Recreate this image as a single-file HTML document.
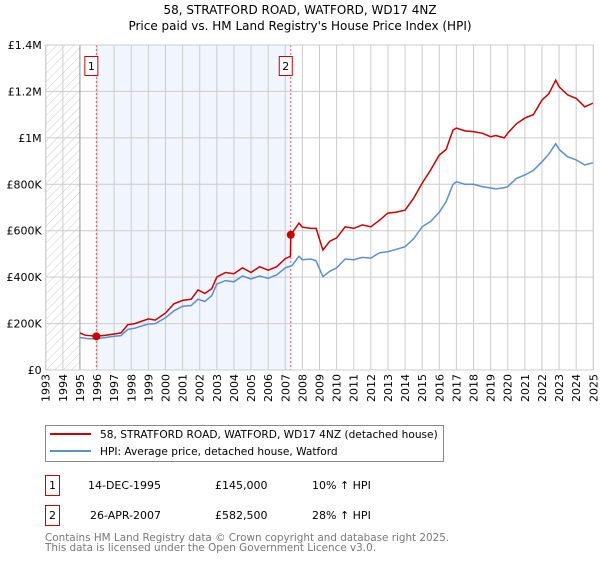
<!DOCTYPE html>
<html><head><meta charset="utf-8"><style>
body{margin:0;background:#fff;font-family:"DejaVu Sans","Liberation Sans",sans-serif;}
svg text{font-family:"DejaVu Sans","Liberation Sans",sans-serif;}
</style></head><body>
<svg id="c" width="600" height="560" viewBox="0 0 600 560">
<defs><pattern id="hatch" width="6" height="6" patternUnits="userSpaceOnUse" patternTransform="rotate(45)"><line x1="0" y1="0" x2="0" y2="6" stroke="#ccc" stroke-width="1"/></pattern></defs>
<text x="300" y="14" text-anchor="middle" font-size="12">58, STRATFORD ROAD, WATFORD, WD17 4NZ</text>
<text x="300" y="30" text-anchor="middle" font-size="12">Price paid vs. HM Land Registry's House Price Index (HPI)</text>
<g id="plot"></g>
<g>
<rect x="45.5" y="425.5" width="398" height="36" fill="#fff" stroke="#888"/>
<line x1="50" y1="434" x2="91" y2="434" stroke="#cc0000" stroke-width="2"/>
<text x="100" y="438" font-size="10.6">58, STRATFORD ROAD, WATFORD, WD17 4NZ (detached house)</text>
<line x1="50" y1="451" x2="91" y2="451" stroke="#5b8fd0" stroke-width="2"/>
<text x="100" y="455" font-size="10.6">HPI: Average price, detached house, Watford</text>
</g>
<g font-size="11">
<rect x="45.5" y="475.5" width="14" height="20" fill="#fff" stroke="#cc0000"/>
<text x="52.5" y="489" text-anchor="middle">1</text>
<text x="88" y="489">14-DEC-1995</text><text x="215" y="489">£145,000</text><text x="312" y="489">10% ↑ HPI</text>
<rect x="45.5" y="505.5" width="14" height="20" fill="#fff" stroke="#cc0000"/>
<text x="52.5" y="519" text-anchor="middle">2</text>
<text x="90" y="519">26-APR-2007</text><text x="215" y="519">£582,500</text><text x="312" y="519">28% ↑ HPI</text>
</g>
<text x="45" y="541" font-size="10.4" fill="#777">Contains HM Land Registry data © Crown copyright and database right 2025.</text>
<text x="45" y="551" font-size="10.4" fill="#777">This data is licensed under the Open Government Licence v3.0.</text>
</svg>
<script>
const yTicks=[0,200000,400000,600000,800000,1000000,1200000,1400000];
const yTickLabels=["£0","£200K","£400K","£600K","£800K","£1M","£1.2M","£1.4M"];
const years=[1993,1994,1995,1996,1997,1998,1999,2000,2001,2002,2003,2004,2005,2006,2007,2008,2009,2010,2011,2012,2013,2014,2015,2016,2017,2018,2019,2020,2021,2022,2023,2024,2025];
const hpiT=[1995.0,1995.5,1996.0,1996.5,1997.0,1997.4,1997.8,1998.2,1999.0,1999.4,2000.0,2000.5,2001.0,2001.5,2001.9,2002.3,2002.7,2003.0,2003.5,2004.0,2004.5,2005.0,2005.5,2006.0,2006.5,2007.0,2007.4,2007.8,2008.0,2008.5,2008.8,2009.2,2009.6,2010.0,2010.5,2011.0,2011.5,2012.0,2012.5,2013.0,2013.5,2014.0,2014.5,2015.0,2015.5,2016.0,2016.4,2016.8,2017.0,2017.5,2018.0,2018.5,2019.0,2019.3,2019.8,2020.0,2020.5,2021.0,2021.5,2022.0,2022.4,2022.8,2023.0,2023.5,2024.0,2024.5,2025.0];
const hpiV=[140,135,135,140,145,148,175,180,198,200,225,255,275,278,305,295,320,370,385,380,405,392,405,395,410,440,450,490,475,478,470,402,425,440,478,475,485,482,505,510,520,531,565,617,640,680,725,800,811,800,800,790,784,780,785,790,825,840,860,897,930,975,950,919,905,883,893];
const ppT=[1995.0,1995.3,1995.96,1996.5,1997.0,1997.4,1997.8,1998.2,1999.0,1999.4,2000.0,2000.5,2001.0,2001.5,2001.9,2002.3,2002.7,2003.0,2003.5,2004.0,2004.5,2005.0,2005.5,2006.0,2006.5,2007.0,2007.3,2007.32,2007.8,2008.0,2008.5,2008.8,2009.2,2009.6,2010.0,2010.5,2011.0,2011.5,2012.0,2012.5,2013.0,2013.5,2014.0,2014.5,2015.0,2015.5,2016.0,2016.4,2016.8,2017.0,2017.5,2018.0,2018.5,2019.0,2019.3,2019.8,2020.0,2020.5,2021.0,2021.5,2022.0,2022.4,2022.8,2023.0,2023.5,2024.0,2024.5,2025.0];
const ppV=[160,150,145,150,155,160,195,200,220,215,245,285,300,305,345,330,350,400,420,415,440,420,445,430,445,480,490,582.5,633,615,610,610,517,555,569,617,610,625,617,645,676,680,689,740,805,862,926,950,1034,1042,1030,1027,1020,1005,1010,1000,1020,1060,1085,1100,1163,1190,1249,1220,1185,1170,1134,1150];
const salesT=[1995.96,2007.32];
const salesV=[145000,582500];
const salesLabels=["1","2"];
const X0=45.7,X1=593.3,Y0=370,Y1=45;
const x=t=>X0+(t-1993)/(2025-1993)*(X1-X0);
const y=v=>Y0-v/1400000*(Y0-Y1);
const NS="http://www.w3.org/2000/svg";
const g=document.getElementById('plot');
function mk(tag,a,parent){const e=document.createElementNS(NS,tag);for(const k in a)e.setAttribute(k,a[k]);(parent||g).appendChild(e);return e;}
let e;
e=mk('rect',{x:x(1993),y:Y1,width:x(1995)-x(1993),height:Y0-Y1,fill:'url(#hatch)'});


e=mk('rect',{x:x(salesT[0]),y:Y1,width:x(salesT[1])-x(salesT[0]),height:Y0-Y1,fill:'#f1f5fd'});


years.forEach(yr=>{
 e=mk('line',{x1:x(yr),x2:x(yr),y1:Y1,y2:Y0,stroke:'#ccc','stroke-width':1});
 
 
 e=mk('text',{x:0,y:0,'font-size':11,'text-anchor':'end',transform:`translate(${x(yr)+4},${Y0+4}) rotate(-90)`});
 e.textContent=yr;
 
 
});
yTicks.forEach((v,i)=>{
 e=mk('line',{x1:X0,x2:X1,y1:y(v),y2:y(v),stroke:'#ccc','stroke-width':1});
 
 
 e=mk('text',{x:X0-4,y:y(v)+4,'font-size':11,'text-anchor':'end'});
 e.textContent=yTickLabels[i];
 
 
});
e=mk('line',{x1:x(1995),x2:x(1995),y1:Y1,y2:Y0,stroke:'#999','stroke-width':1});


salesT.forEach((t,i)=>{
 e=mk('line',{x1:x(t),x2:x(t),y1:Y1,y2:Y0,stroke:'#e06060','stroke-width':1,'stroke-dasharray':'2,2'});
 
 
 e=mk('rect',{x:x(t)-11.5,y:56.5,width:13,height:19,fill:'#fff',stroke:'#cc0000'});
 
 
 e=mk('text',{x:x(t)-5,y:70,'font-size':11,'text-anchor':'middle'});
 e.textContent=salesLabels[i];
 
 
});
e=mk('path',{d:hpiT.map((t,i)=>(i?'L':'M')+x(t).toFixed(1)+','+y(hpiV[i]*1000).toFixed(1)).join(''),fill:'none',stroke:'#5b8fd0','stroke-width':1.5});


e=mk('path',{d:ppT.map((t,i)=>(i?'L':'M')+x(t).toFixed(1)+','+y(ppV[i]*1000).toFixed(1)).join(''),fill:'none',stroke:'#cc0000','stroke-width':1.5});


salesT.forEach((t,i)=>{
 e=mk('circle',{cx:x(t),cy:y(salesV[i]),r:4,fill:'#cc0000'});
 
 
});
e=mk('rect',{x:X0,y:Y1,width:X1-X0,height:Y0-Y1,fill:'none',stroke:'#ccc'});


</script>
</body></html>
